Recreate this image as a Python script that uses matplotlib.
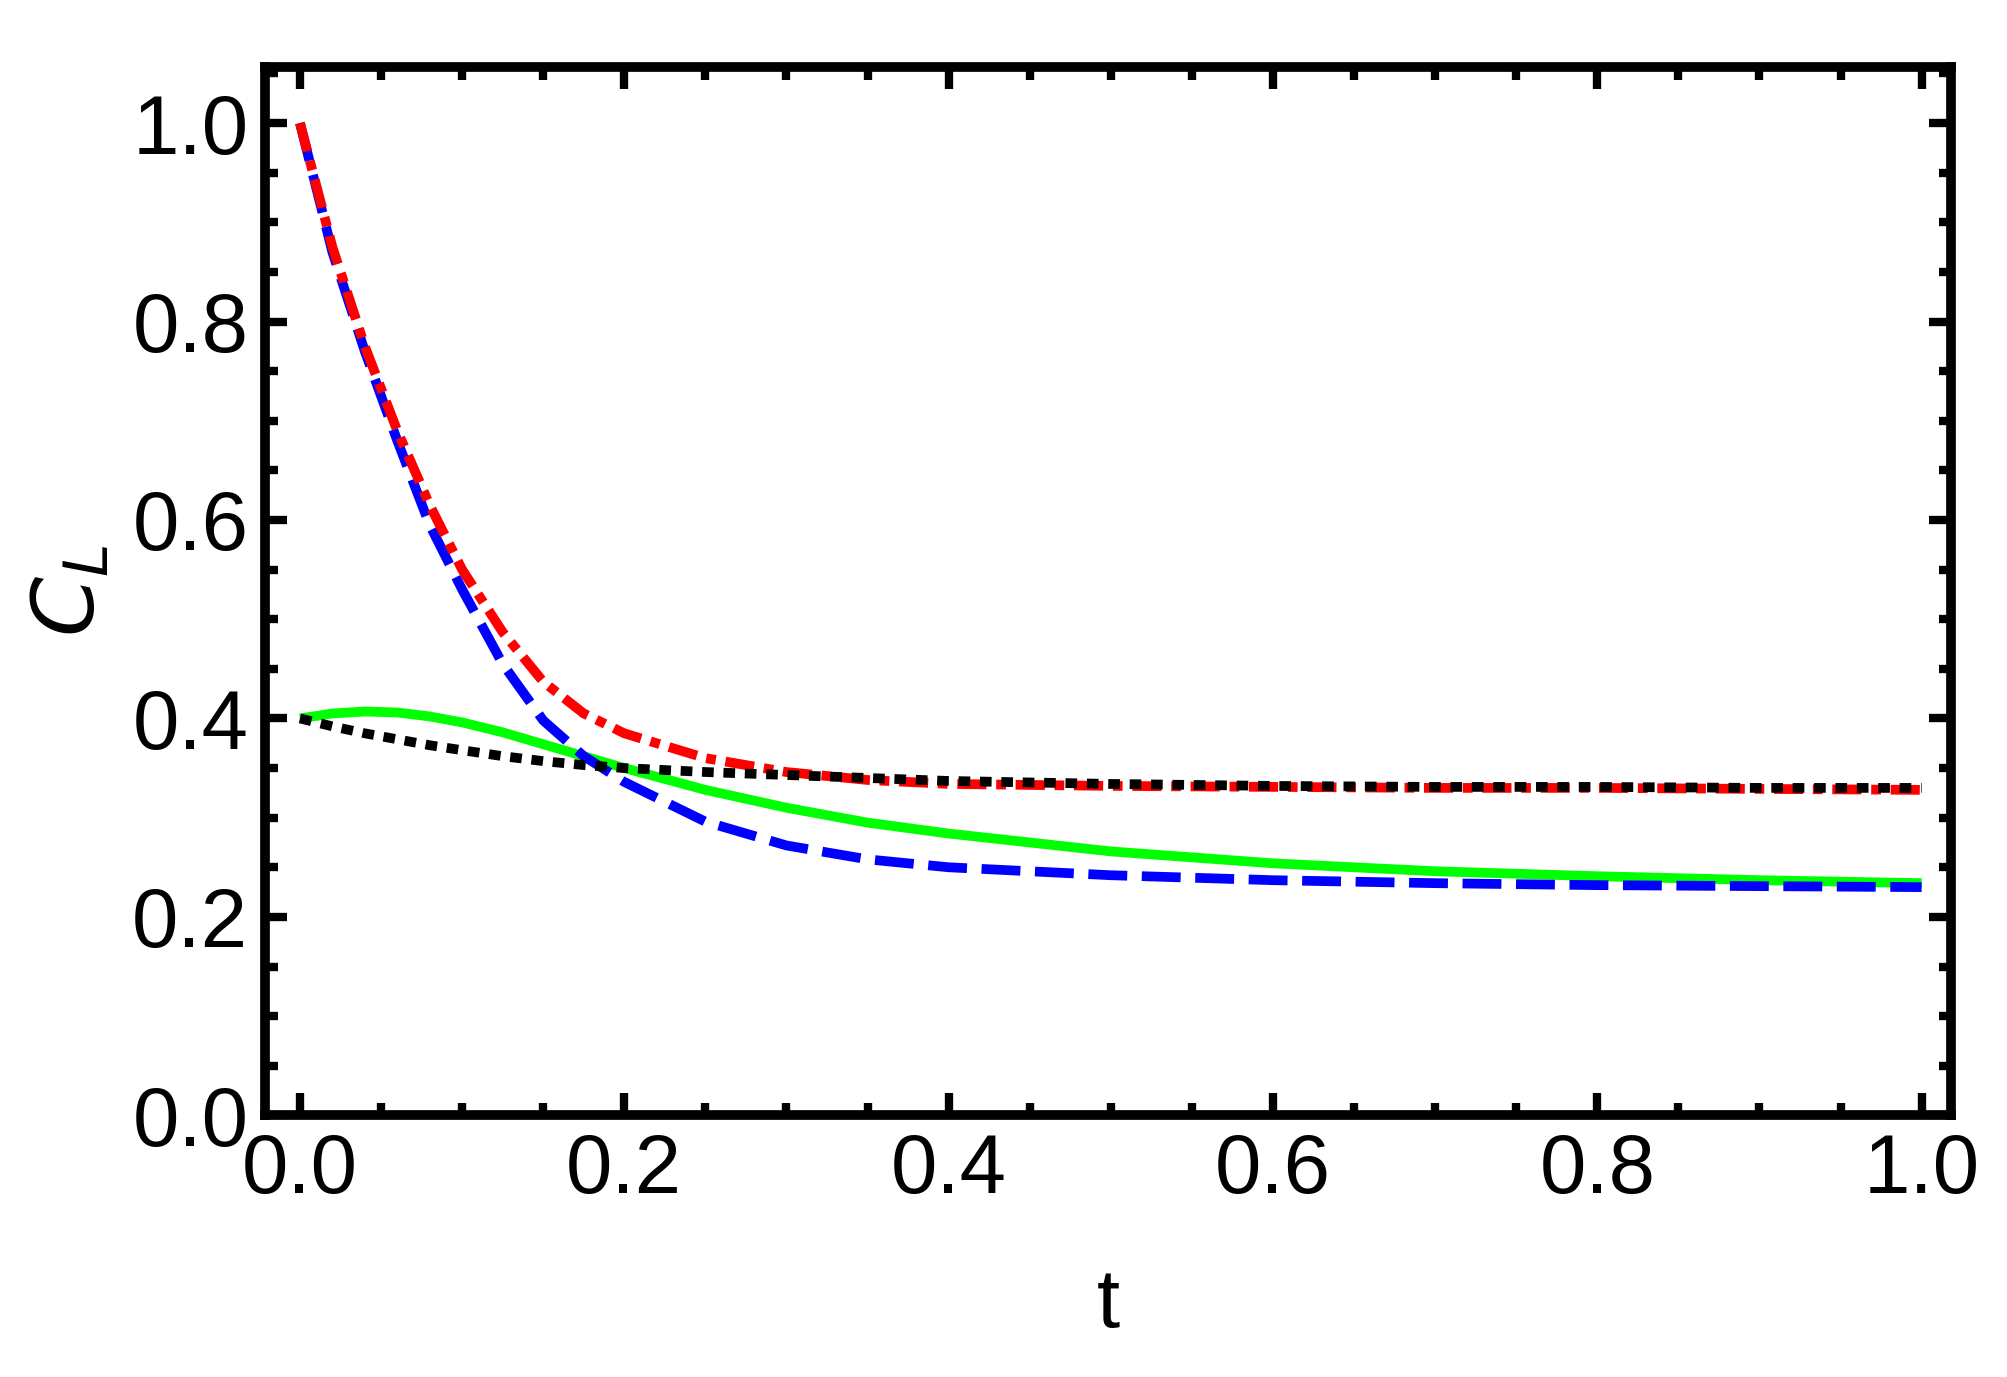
import numpy as np
import matplotlib.pyplot as plt
from matplotlib.ticker import MultipleLocator

plt.rcParams['font.family'] = ['Liberation Sans', 'DejaVu Sans']

t = [0.0, 0.02, 0.04, 0.06, 0.08, 0.1, 0.125, 0.15, 0.175, 0.2, 0.25, 0.3, 0.35, 0.4, 0.5, 0.6, 0.7, 0.8, 0.9, 1.0]
blue = [1.0, 0.87, 0.77, 0.68, 0.595, 0.53, 0.455, 0.398, 0.362, 0.336, 0.296, 0.272, 0.258, 0.25, 0.242, 0.237, 0.234, 0.232, 0.231, 0.23]
red = [1.0, 0.875, 0.775, 0.69, 0.615, 0.55, 0.487, 0.437, 0.405, 0.385, 0.36, 0.346, 0.338, 0.334, 0.332, 0.331, 0.330, 0.330, 0.329, 0.328]
green = [0.40, 0.405, 0.407, 0.406, 0.402, 0.396, 0.386, 0.374, 0.362, 0.35, 0.328, 0.31, 0.295, 0.284, 0.266, 0.254, 0.246, 0.241, 0.237, 0.234]
black = [0.40, 0.392, 0.385, 0.379, 0.373, 0.368, 0.362, 0.357, 0.353, 0.35, 0.346, 0.343, 0.34, 0.337, 0.334, 0.332, 0.331, 0.331, 0.330, 0.330]

fig = plt.figure(figsize=(20.07, 13.77), dpi=100)
ax = fig.add_axes([0.132, 0.19, 0.84, 0.761])

ax.plot(t, green, color='#00ff00', lw=7, solid_capstyle='butt')
ax.plot(t, blue, color='blue', lw=7, dashes=(4, 1.5))
ax.plot(t, red, color='red', lw=7, dashes=(3, 1, 1, 1))
ax.plot(t, black, color='black', lw=7, dashes=(1.2, 1.0))

ax.set_xlim(-0.0216, 1.018)
ax.set_ylim(0, 1.056)
ax.xaxis.set_major_locator(MultipleLocator(0.2))
ax.xaxis.set_minor_locator(MultipleLocator(0.05))
ax.yaxis.set_major_locator(MultipleLocator(0.2))
ax.yaxis.set_minor_locator(MultipleLocator(0.05))
ax.xaxis.set_major_formatter(plt.FuncFormatter(lambda v, p: f'{v:.1f}'))
ax.yaxis.set_major_formatter(plt.FuncFormatter(lambda v, p: f'{v:.1f}'))
ax.tick_params(which='both', direction='in', top=True, right=True, width=6, labelsize=60)
ax.tick_params(which='major', length=16, pad=12)
ax.tick_params(which='minor', length=9)
for s in ax.spines.values():
    s.set_linewidth(7)

ax.set_xlabel('t', fontsize=60, labelpad=40)
ax.set_ylabel('$C_L$', fontsize=62, labelpad=14)

fig.savefig('out.png', dpi=100)
